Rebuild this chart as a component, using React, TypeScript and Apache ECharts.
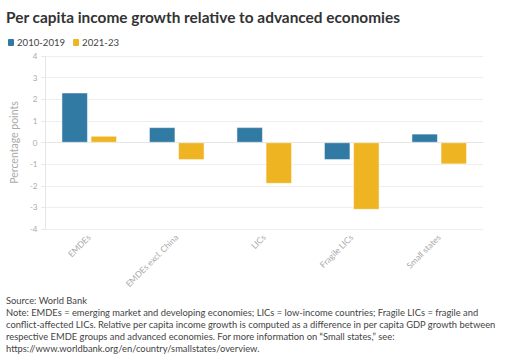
import React, { useEffect, useRef } from "react";
import * as echarts from "echarts";

const categories = ["EMDEs", "EMDEs excl. China", "LICs", "Fragile LICs", "Small states"];
const series2010 = [2.3, 0.7, 0.7, -0.8, 0.4];
const series2021 = [0.3, -0.8, -1.9, -3.1, -1.0];
const seriesNames = ["2010-2019", "2021-23"];
const titleText = "Per capita income growth relative to advanced economies";
const footerLines = [
  "Source: World Bank",
  "Note: EMDEs = emerging market and developing economies; LICs = low-income countries; Fragile LICs = fragile and",
  "conflict-affected LICs. Relative per capita income growth is computed as a difference in per capita GDP growth between",
  "respective EMDE groups and advanced economies. For more information on \u201cSmall states,\u201d see:",
  "https://www.worldbank.org/en/country/smallstates/overview.",
];

const FONT = "Lato, 'Open Sans', sans-serif";

export default function App() {
  const ref = useRef<HTMLDivElement>(null);
  useEffect(() => {
    if (!ref.current) return;
    const chart = echarts.init(ref.current, undefined, { renderer: "svg" });
    chart.setOption({
      animation: false,
      textStyle: { fontFamily: FONT },
      title: {
        text: titleText,
        left: 1,
        top: 4,
        textStyle: { fontSize: 15.4, fontWeight: "bold", color: "#333", fontFamily: FONT },
      },
      legend: {
        left: 1,
        top: 32,
        itemWidth: 8,
        itemHeight: 9,
        itemGap: 6,
        icon: "roundRect",
        textStyle: { fontSize: 9.6, color: "#444", padding: [0, 0, 0, -3], fontFamily: FONT },
        data: seriesNames,
      },
      grid: { left: 44, right: 22, top: 56, bottom: 129, containLabel: false },
      xAxis: {
        type: "category",
        data: categories,
        axisLine: { lineStyle: { color: "#e6e6e6" } },
        axisTick: { alignWithLabel: true, lineStyle: { color: "#e6e6e6" }, length: 4 },
        axisLabel: { rotate: 45, fontSize: 8.5, color: "#aaa", margin: 7, fontFamily: FONT },
      },
      yAxis: {
        type: "value",
        min: -4,
        max: 4,
        interval: 1,
        name: "Percentage points",
        nameLocation: "middle",
        nameGap: 21,
        nameTextStyle: { fontSize: 10.5, color: "#aaa", fontFamily: FONT },
        axisLine: { show: true, lineStyle: { color: "#e6e6e6" } },
        axisTick: { show: true, length: 4, lineStyle: { color: "#e6e6e6" } },
        axisLabel: { fontSize: 8, color: "#aaa", margin: 8, fontFamily: FONT },
        splitLine: { lineStyle: { color: "#eeeeee" } },
      },
      series: [
        {
          name: seriesNames[0],
          type: "bar",
          data: series2010,
          barWidth: 26,
          barGap: "12%",
          itemStyle: { color: "#317aa3", borderColor: "#ffffff", borderWidth: 0.5 },
        },
        {
          name: seriesNames[1],
          type: "bar",
          data: series2021,
          barWidth: 26,
          itemStyle: { color: "#eeb422", borderColor: "#ffffff", borderWidth: 0.5 },
        },
      ],
      graphic: [
        {
          type: "text",
          left: 6,
          top: 294,
          style: {
            text: footerLines.join("\n"),
            fontSize: 9.35,
            lineHeight: 12.2,
            fill: "#444",
            fontFamily: FONT,
          },
        },
      ],
    });
    return () => chart.dispose();
  }, []);
  return <div ref={ref} style={{ width: 505, height: 358, position: "absolute", left: 0, top: 0 }} />;
}
